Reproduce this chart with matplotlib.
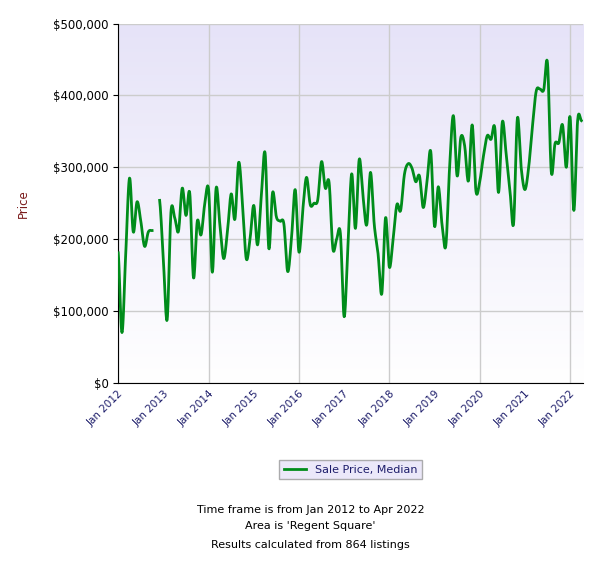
import numpy as np
import matplotlib
matplotlib.use("Agg")
import matplotlib.pyplot as plt
from matplotlib.ticker import FuncFormatter

# monthly median sale price (thousands), Jan 2012 .. Apr 2022
prices = [181, 70, 180, 285, 210, 252, 225, 190, 210, 212, np.nan, 254,
          170, 88, 237, 230, 211, 271, 233, 264, 146, 225, 206, 250,
          269, 154, 271, 220, 173, 210, 263, 228, 307, 250, 173, 200,
          247, 192, 260, 320, 187, 265, 231, 225, 221, 155, 200, 269,
          182, 240, 286, 248, 250, 255, 308, 271, 279, 187, 200, 208,
          92, 190, 291, 215, 311, 260, 220, 293, 220, 180, 124, 230,
          161, 200, 248, 240, 290, 305, 299, 280, 288, 244, 280, 322,
          218, 273, 220, 191, 300, 372, 288, 342, 330, 281, 359, 267,
          280, 316, 344, 339, 355, 265, 363, 320, 270, 222, 368, 300,
          269, 300, 357, 406, 409, 408, 445, 294, 333, 334, 359, 300,
          370, 240, 365, 365]
years = list(range(2012, 2023))
year_labels = ["Jan %d" % y for y in years]

vals = np.array(prices, dtype=float) * 1000
months = np.arange(len(vals))


def smooth(x, y, n=12):
    # catmull-rom through the monthly points, for the rounded look
    if len(x) < 3:
        return x, y
    xp = np.concatenate([[x[0]], x, [x[-1]]])
    yp = np.concatenate([[y[0]], y, [y[-1]]])
    xs, ys = [], []
    t = np.linspace(0, 1, n, endpoint=False)
    for i in range(1, len(xp) - 2):
        p0, p1, p2, p3 = yp[i - 1], yp[i], yp[i + 1], yp[i + 2]
        ys.append(0.5 * (2 * p1 + (-p0 + p2) * t + (2 * p0 - 5 * p1 + 4 * p2 - p3) * t**2
                         + (-p0 + 3 * p1 - 3 * p2 + p3) * t**3))
        xs.append(xp[i] + (xp[i + 1] - xp[i]) * t)
    xs.append([x[-1]])
    ys.append([y[-1]])
    return np.concatenate(xs), np.concatenate(ys)


fig = plt.figure(figsize=(5.97, 5.63), dpi=100)
fig.patch.set_facecolor("white")
ax = fig.add_axes([0.198, 0.320, 0.779, 0.638])

# lavender gradient background
grad = np.linspace(0, 1, 256).reshape(-1, 1)
ax.imshow(grad, extent=[0, 123.5, 0, 500000], aspect="auto", origin="lower",
          cmap=matplotlib.colors.LinearSegmentedColormap.from_list("bg", ["#ffffff", "#e6e3f8"]),
          zorder=0)

ok = ~np.isnan(vals)
start = 0
for i in range(len(vals) + 1):
    if i == len(vals) or not ok[i]:
        if i - start > 0:
            sx, sy = smooth(months[start:i].astype(float), vals[start:i])
            ax.plot(sx, sy, color="#008c1a", lw=2, zorder=3, label="Sale Price, Median" if start == 0 else None)
        start = i + 1

ax.set_xlim(0, 123.5)
ax.set_ylim(0, 500000)
ax.set_yticks(np.arange(0, 500001, 100000))
ax.yaxis.set_major_formatter(FuncFormatter(lambda v, p: "${:,.0f}".format(v)))
ax.set_xticks([(y - 2012) * 12 for y in years])
ax.set_xticklabels(year_labels, rotation=45, ha="right", rotation_mode="anchor",
                   fontsize=7.5, color="#1c1c6a")
ax.tick_params(axis="y", labelsize=8.5)
ax.tick_params(axis="x", length=0, pad=4)
for y in range(2012, 2023, 2):
    ax.axvline((y - 2012) * 12, color="#cccccc", lw=1, zorder=1)
ax.grid(axis="y", color="#cccccc", lw=1, zorder=1)
ax.set_axisbelow(True)
for s in ["top", "right"]:
    ax.spines[s].set_visible(False)
ax.spines["left"].set_color("black")
ax.spines["bottom"].set_color("black")
ax.set_ylabel("Price", color="#7a1a1a", fontsize=8.5)
ax.yaxis.set_label_coords(-0.19, 0.5)

leg = ax.legend(loc="upper center", bbox_to_anchor=(0.5, -0.2), fontsize=8,
                frameon=True, fancybox=False, facecolor="#e6e3f8", edgecolor="#999999")
for t in leg.get_texts():
    t.set_color("#1c1c6a")

fig.text(0.52, 0.089, "Time frame is from Jan 2012 to Apr 2022", ha="center", fontsize=8)
fig.text(0.52, 0.060, "Area is 'Regent Square'", ha="center", fontsize=8)
fig.text(0.52, 0.026, "Results calculated from 864 listings", ha="center", fontsize=8)

fig.savefig("out.png", dpi=100)
